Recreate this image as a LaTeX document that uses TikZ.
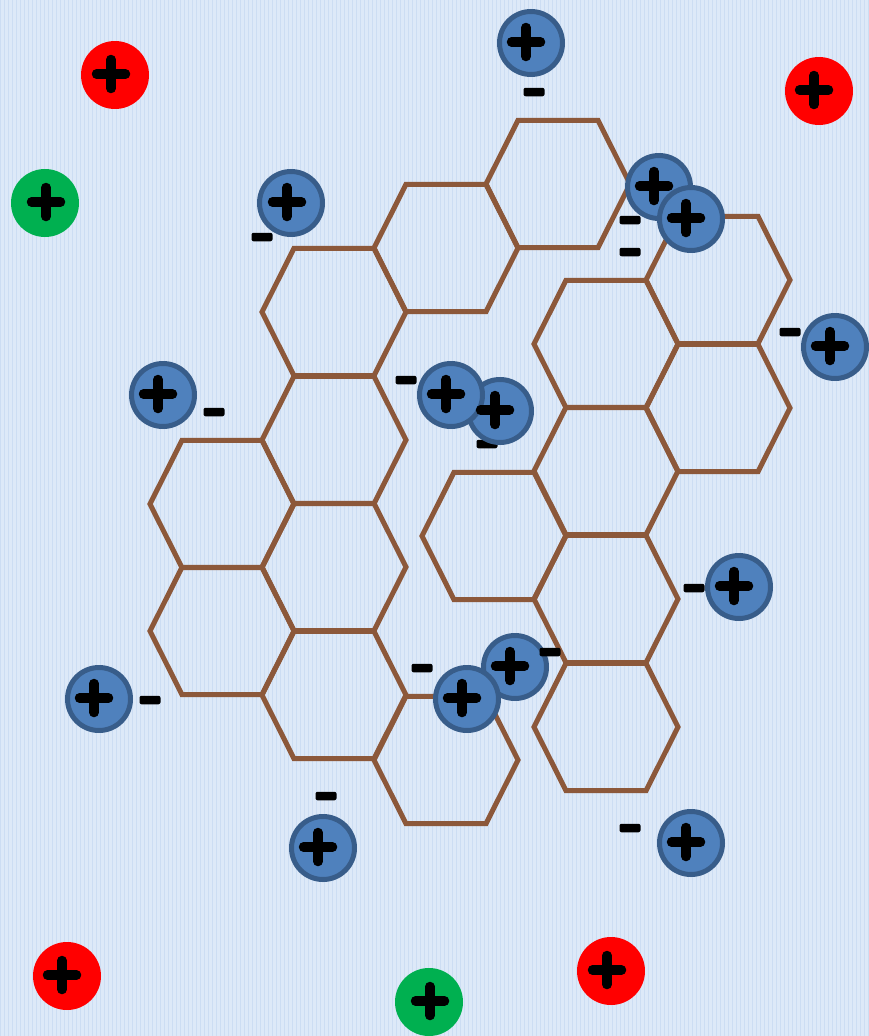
\documentclass[tikz,border=0pt]{standalone}
\usetikzlibrary{calc}
\definecolor{bgblue}{RGB}{221,233,248}
\definecolor{stripeblue}{RGB}{204,221,243}
\definecolor{hexbrown}{RGB}{140,88,58}
\definecolor{ionblue}{RGB}{79,129,189}
\definecolor{ionborder}{RGB}{56,93,138}
\definecolor{ionred}{RGB}{255,0,0}
\definecolor{iongreen}{RGB}{0,176,80}
\tikzset{
  hexline/.style={draw=hexbrown,line width=5pt,line join=miter},
  bluec/.style={circle,inner sep=0pt,minimum size=63pt,fill=ionblue,draw=ionborder,line width=5pt},
  redc/.style={circle,inner sep=0pt,minimum size=68pt,fill=ionred,draw=none},
  greenc/.style={circle,inner sep=0pt,minimum size=68pt,fill=iongreen,draw=none},
  plusline/.style={draw=black,line width=9.5pt,line cap=round},
  minusbar/.style={rectangle,fill=black,draw=none,inner sep=0pt,minimum width=21pt,minimum height=8.5pt,rounded corners=2pt}
}
\newcommand\hexcell[2]{%
  \begin{scope}[shift={(#1,#2)}]
    \draw[hexline] (-72,0) -- (-40,-63.7) -- (40,-63.7) -- (72,0) -- (40,63.7) -- (-40,63.7) -- cycle;
  \end{scope}}
\newcommand\plusat[2]{%
  \draw[plusline] ($(#1.center)+(#2-14.5,-1)$) -- ($(#1.center)+(#2+14.5,-1)$);
  \draw[plusline] ($(#1.center)+(#2,-15.5)$) -- ($(#1.center)+(#2,13.5)$);}
\begin{document}
\begin{tikzpicture}[x=1pt,y=-1pt]
  \fill[bgblue] (0,0) rectangle (869,1036);
  \useasboundingbox (0,0) rectangle (869,1036);
  \foreach \i in {0,4,...,868} {\draw[stripeblue,line width=0.8pt] (\i,0) -- (\i,1036);}
  % left cluster
  \hexcell{222}{504}\hexcell{222}{631}
  \hexcell{334}{312}\hexcell{334}{440}\hexcell{334}{567}\hexcell{334}{695}
  \hexcell{446}{248}\hexcell{446}{760}
  \hexcell{558}{184}
  % right cluster
  \hexcell{494}{536}
  \hexcell{606}{344}\hexcell{606}{471}\hexcell{606}{599}\hexcell{606}{727}
  \hexcell{718}{280}\hexcell{718}{408}
  % minus hidden under an ion
  \node[minusbar] (m7b) at (487,444) {};
  % ions
  \node[redc] (r1) at (115,75) {};
  \node[redc] (r2) at (819,91) {};
  \node[redc] (r3) at (67,976) {};
  \node[redc] (r4) at (611,971) {};
  \node[greenc] (g1) at (45,203) {};
  \node[greenc] (g2) at (429,1002) {};
  \node[bluec] (b1) at (531,43) {};
  \node[bluec] (b2) at (291,203) {};
  \node[bluec] (b3) at (659,187) {};
  \node[bluec] (b4) at (691,219) {};
  \node[bluec] (b5) at (835,347) {};
  \node[bluec] (b6) at (163,395) {};
  \node[bluec] (b8) at (500,411) {};
  \node[bluec] (b7) at (451,395) {};
  \node[bluec] (b9) at (739,587) {};
  \node[bluec] (b10) at (515,667) {};
  \node[bluec] (b11) at (467,699) {};
  \node[bluec] (b12) at (99,699) {};
  \node[bluec] (b13) at (323,848) {};
  \node[bluec] (b14) at (691,843) {};
  % plus signs
  \plusat{r1}{-4}\plusat{r2}{-5}\plusat{r3}{-5}\plusat{r4}{-4}
  \plusat{g1}{1}\plusat{g2}{1}
  \plusat{b1}{-5}\plusat{b2}{-4}\plusat{b3}{-5}\plusat{b4}{-5}\plusat{b5}{-5}
  \plusat{b6}{-5}\plusat{b7}{-5}\plusat{b8}{-5}\plusat{b9}{-5}\plusat{b10}{-5}
  \plusat{b11}{-5}\plusat{b12}{-5}\plusat{b13}{-5}\plusat{b14}{-5}
  % minus signs
  \node[minusbar] (m1) at (534,92) {};
  \node[minusbar] (m2) at (262,237) {};
  \node[minusbar] (m3) at (630,220) {};
  \node[minusbar] (m4) at (630,252) {};
  \node[minusbar] (m5) at (790,332) {};
  \node[minusbar] (m6) at (214,412) {};
  \node[minusbar] (m7a) at (406,380) {};
  \node[minusbar] (m9) at (694,588) {};
  \node[minusbar] (m10) at (422,668) {};
  \node[minusbar] (m11) at (550,652) {};
  \node[minusbar] (m12) at (150,700) {};
  \node[minusbar] (m13) at (326,796) {};
  \node[minusbar] (m14) at (630,828) {};
\end{tikzpicture}
\end{document}
